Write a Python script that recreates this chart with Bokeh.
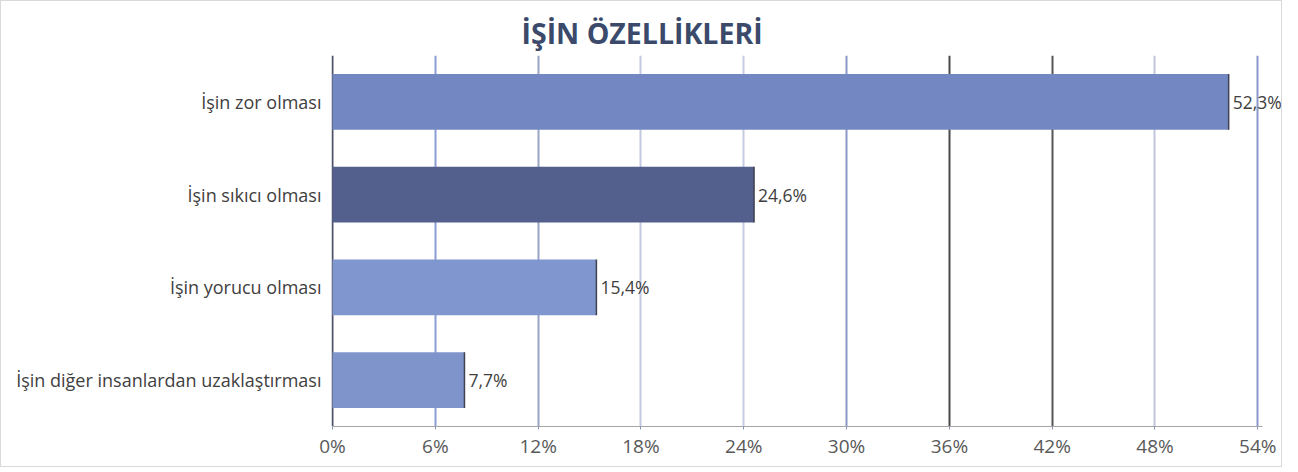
from bokeh.plotting import figure
from bokeh.models import FixedTicker, Grid, PrintfTickFormatter, LabelSet, ColumnDataSource
from bokeh.core.properties import value
from bokeh.embed import file_html
from bokeh.resources import INLINE

categories = ["İşin zor olması", "İşin sıkıcı olması", "İşin yorucu olması",
              "İşin diğer insanlardan uzaklaştırması"]
values = [52.3, 24.6, 15.4, 7.7]
bar_colors = ["#7388c2", "#535f8c", "#8096cf", "#7f94cb"]
ticks = [0, 6, 12, 18, 24, 30, 36, 42, 48, 54]
grid_colors = ["#50546a", "#8c9dd4", "#9aa4c4", "#c2c9e0", "#c6cce2",
               "#8a98c8", "#4a4a4a", "#555555", "#c0c6dc", "#8a9acc"]
title_text = "İŞİN ÖZELLİKLERİ"

labels = [f"{v:.1f}".replace(".", ",") + "%" for v in values]
src = ColumnDataSource(dict(cat=categories, val=values, color=bar_colors, lab=labels))

FONT = "Open Sans"

p = figure(width=1282, height=467, y_range=list(reversed(categories)),
           x_range=(-0.06, 55.5), output_backend="svg", toolbar_location=None,
           min_border_left=330, min_border_right=0, min_border_top=54,
           min_border_bottom=42, title=title_text)
p.styles = {"border": "1px solid #d9d9d9", "box-sizing": "border-box"}
p.outline_line_color = None
p.xgrid.visible = False
p.ygrid.visible = False

p.title.align = "left"
p.title.offset = 190
p.title.text_font = FONT
p.title.text_font_style = "bold"
p.title.text_font_size = "28.5px"
p.title.text_color = "#3b4a6b"
p.title.standoff = 8

for t, c in zip(ticks, grid_colors):
    p.add_layout(Grid(dimension=0, ticker=FixedTicker(ticks=[t]),
                      grid_line_color=c, grid_line_width=2))

p.hbar(y="cat", right="val", left=0, height=0.6, fill_color="color",
       line_color=None, source=src)
p.hbar(y="cat", left="val", right="val", height=0.6, fill_color=None,
       line_color="#3f4250", line_width=1.5, source=src)

p.add_layout(LabelSet(x="val", y="cat", text="lab", source=src, x_offset=4,
                      text_baseline="middle", text_align="left",
                      text_color="#404040", text_font=value(FONT),
                      text_font_size="17.5px"))

xa = p.xaxis[0]
xa.ticker = FixedTicker(ticks=ticks)
xa.bounds = (0, 54.3)
xa.formatter = PrintfTickFormatter(format="%d%%")
xa.axis_line_color = "#a6a6a6"
xa.major_tick_line_color = "#8a95b8"
xa.major_tick_out = 3
xa.major_tick_in = 0
xa.minor_tick_line_color = None
xa.major_label_text_color = "#595959"
xa.major_label_text_font = FONT
xa.major_label_text_font_size = "19px"
xa.major_label_standoff = 3

ya = p.yaxis[0]
ya.axis_line_color = None
ya.major_tick_line_color = None
ya.minor_tick_line_color = None
ya.major_label_text_color = "#404040"
ya.major_label_text_font = FONT
ya.major_label_text_font_size = "18px"
ya.major_label_standoff = 4

open("out.html", "w").write(file_html(p, INLINE))
